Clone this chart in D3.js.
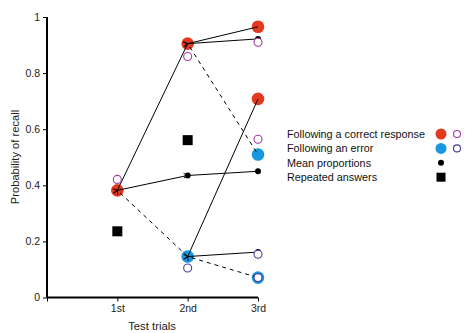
<!DOCTYPE html>
<html>
<head>
<meta charset="utf-8">
<script src="https://cdn.jsdelivr.net/npm/d3@7"></script>
<style>
  body { margin: 0; background: #fff; }
  svg { display: block; font-family: "Liberation Sans", Arial, sans-serif; }
</style>
</head>
<body>
<svg id="chart" width="465" height="333"></svg>
<script>
// Test trial labels (x positions 1..3, 0 is the origin)
const trialLabels = ["1st", "2nd", "3rd"];
const yTicks = [0, 0.2, 0.4, 0.6, 0.8, 1];

// Observed proportions following a correct response [trial, p]
const correctObserved = [[1, 0.382], [2, 0.905], [3, 0.965], [3, 0.708]];
// Observed proportions following an error
const errorObserved = [[2, 0.146], [3, 0.51], [3, 0.071]];
// Predicted values (open circles)
const correctPredicted = [[1, 0.421], [2, 0.859], [3, 0.910], [3, 0.564]];
const errorPredicted = [[2, 0.105], [3, 0.154], [3, 0.071]];
// Mean proportions
const meanProportions = [[2, 0.435], [3, 0.45], [3, 0.922], [3, 0.162]];
// Repeated answers
const repeatedAnswers = [[1, 0.236], [2, 0.561]];

// Branches between trials: [from, to, dashed]; solid branches point back to their origin
const branches = [
  [[2, 0.905], [1, 0.382], false],
  [[2, 0.435], [1, 0.382], false],
  [[3, 0.45], [2, 0.435], false],
  [[3, 0.965], [2, 0.905], false],
  [[3, 0.922], [2, 0.905], false],
  [[3, 0.708], [2, 0.146], false],
  [[3, 0.162], [2, 0.146], false],
  [[1, 0.382], [2, 0.146], true],
  [[2, 0.905], [3, 0.51], true],
  [[2, 0.146], [3, 0.071], true]
];

const legendItems = [
  { label: "Following a correct response", kind: "correct" },
  { label: "Following an error", kind: "error" },
  { label: "Mean proportions", kind: "mean" },
  { label: "Repeated answers", kind: "repeated" }
];

const RED = "#e2391f", BLUE = "#1797df", PURPLE = "#a2399d", INDIGO = "#4b3a98";

const svg = d3.select("#chart");
const x = d3.scaleLinear().domain([0, 3]).range([47, 258]);
const y = d3.scaleLinear().domain([0, 1]).range([297.5, 17]);

svg.append("defs").append("marker")
  .attr("id", "chev")
  .attr("viewBox", "-1 -4 6 8")
  .attr("refX", 0).attr("refY", 0)
  .attr("markerWidth", 6).attr("markerHeight", 8)
  .attr("markerUnits", "userSpaceOnUse")
  .attr("orient", "auto-start-reverse")
  .append("path")
  .attr("d", "M4,-2.4L0,0L4,2.4")
  .attr("fill", "none").attr("stroke", "#000").attr("stroke-width", 0.9);

// Axes
const yAxis = d3.axisLeft(y).tickValues(yTicks).tickSize(4).tickPadding(3)
  .tickFormat(d => d === 0 ? "0" : d === 1 ? "1" : d3.format(".1f")(d));
const gy = svg.append("g").attr("transform", `translate(${x(0)},0)`).call(yAxis);
const xAxis = d3.axisBottom(x).tickValues([0, 1, 2, 3]).tickSize(4).tickPadding(3)
  .tickFormat(d => d === 0 ? "" : trialLabels[d - 1]);
const gx = svg.append("g").attr("transform", `translate(0,${y(0)})`).call(xAxis);
[gx, gy].forEach(g => {
  g.select(".domain").attr("stroke-width", 2).attr("stroke", "#000");
  g.selectAll(".tick line").attr("stroke", "#000");
  g.selectAll("text").attr("font-size", 10.5).attr("fill", "#222")
    .attr("font-family", "Liberation Sans, Arial, sans-serif");
});
gy.select(".domain").attr("d", `M0,${y(0)}V${y(1)}`);
gx.select(".domain").attr("d", `M${x(0)},0H${x(3)}`);

svg.append("text").attr("x", 152).attr("y", 330).attr("text-anchor", "middle")
  .attr("font-size", 11.3).attr("fill", "#222").text("Test trials");
svg.append("text").attr("transform", "translate(19,157) rotate(-90)")
  .attr("text-anchor", "middle").attr("font-size", 11.2).attr("fill", "#222")
  .text("Probability of recall");

// Observed filled circles
svg.append("g").selectAll("circle").data(correctObserved).join("circle")
  .attr("cx", d => x(d[0])).attr("cy", d => y(d[1])).attr("r", 6.3).attr("fill", RED);
svg.append("g").selectAll("circle").data(errorObserved).join("circle")
  .attr("cx", d => x(d[0])).attr("cy", d => y(d[1])).attr("r", 6.3).attr("fill", BLUE);

// Branch lines (dashed ones begin with a gap so they leave the origin marker clear)
svg.append("g").selectAll("line").data(branches).join("line")
  .attr("x1", d => x(d[0][0])).attr("y1", d => y(d[0][1]))
  .attr("x2", d => x(d[1][0])).attr("y2", d => y(d[1][1]))
  .attr("stroke", "#000").attr("stroke-width", 1)
  .attr("stroke-dasharray", d => d[2] ? "4,4" : null)
  .attr("stroke-dashoffset", d => d[2] ? 4 : null)
  .attr("marker-end", d => d[2] ? null : "url(#chev)");

// Mean proportions
svg.append("g").selectAll("circle").data(meanProportions).join("circle")
  .attr("cx", d => x(d[0])).attr("cy", d => y(d[1])).attr("r", 3).attr("fill", "#000");

// Predicted open circles
svg.append("g").selectAll("circle").data(correctPredicted).join("circle")
  .attr("cx", d => x(d[0])).attr("cy", d => y(d[1])).attr("r", 4)
  .attr("fill", "#fff").attr("stroke", PURPLE).attr("stroke-width", 1.1);
svg.append("g").selectAll("circle").data(errorPredicted).join("circle")
  .attr("cx", d => x(d[0])).attr("cy", d => y(d[1])).attr("r", 4)
  .attr("fill", "#fff").attr("stroke", INDIGO).attr("stroke-width", 1.1);

// Repeated answers
const sq = 10;
svg.append("g").selectAll("rect").data(repeatedAnswers).join("rect")
  .attr("x", d => x(d[0]) - sq / 2).attr("y", d => y(d[1]) - sq / 2)
  .attr("width", sq).attr("height", sq).attr("fill", "#000");

// Legend
const lg = svg.append("g");
legendItems.forEach((item, i) => {
  const cy = 134 + i * 14.4;
  lg.append("text").attr("x", 287).attr("y", cy + 3.8).attr("font-size", 10.8)
    .attr("fill", "#111").text(item.label);
  if (item.kind === "correct" || item.kind === "error") {
    lg.append("circle").attr("cx", 441).attr("cy", cy).attr("r", 5.5)
      .attr("fill", item.kind === "correct" ? RED : BLUE);
    lg.append("circle").attr("cx", 457).attr("cy", cy).attr("r", 3.5)
      .attr("fill", "#fff").attr("stroke", item.kind === "correct" ? PURPLE : INDIGO)
      .attr("stroke-width", 1.1);
  } else if (item.kind === "mean") {
    lg.append("circle").attr("cx", 441).attr("cy", cy).attr("r", 3).attr("fill", "#000");
  } else {
    lg.append("rect").attr("x", 441 - 4.5).attr("y", cy - 4.5).attr("width", 9)
      .attr("height", 9).attr("fill", "#000");
  }
});
</script>
</body>
</html>
